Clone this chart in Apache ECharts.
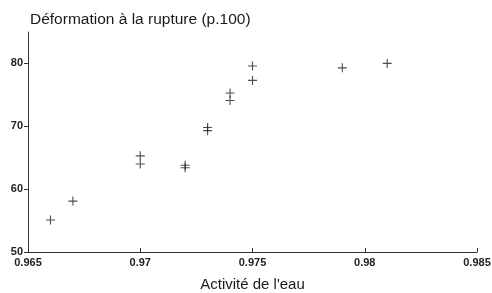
<!DOCTYPE html>
<html>
<head>
<meta charset="utf-8">
<script src="https://cdn.jsdelivr.net/npm/echarts@6/dist/echarts.min.js"></script>
<style>
  html, body { margin: 0; padding: 0; background: #fff; }
</style>
</head>
<body>
<div id="main" style="width:492px;height:293px;"></div>
<script>
    // données
    var activiteEau = [0.966, 0.967, 0.970, 0.970, 0.972, 0.972, 0.973, 0.973, 0.974, 0.974, 0.975, 0.975, 0.979, 0.981];
    var deformation = [55.1, 58.1, 65.3, 64.0, 63.8, 63.4, 69.8, 69.3, 75.3, 74.1, 79.6, 77.3, 79.3, 80.0];
    var xTicks = [0.965, 0.97, 0.975, 0.98, 0.985];
    var yTicks = [50, 60, 70, 80];

    var points = [];
    for (var i = 0; i < activiteEau.length; i++) {
        points.push([activiteEau[i], deformation[i]]);
    }

    var font = 'Liberation Sans, Arial, sans-serif';
    var myChart = echarts.init(document.getElementById('main'));

    var option = {
        animation: false,
        title: {
            text: 'Déformation à la rupture (p.100)',
            left: 30,
            top: 12,
            padding: 0,
            textStyle: { fontFamily: font, fontSize: 15.5, fontWeight: 'normal', color: '#1a1a1a' }
        },
        grid: { left: 28, right: 15, top: 32, bottom: 41, outerBoundsMode: 'none', containLabel: false },
        xAxis: {
            type: 'value',
            min: 0.965,
            max: 0.985,
            interval: 0.005,
            name: "Activité de l'eau",
            nameLocation: 'middle',
            nameGap: 25,
            nameTextStyle: { fontFamily: font, fontSize: 15, color: '#1a1a1a' },
            splitLine: { show: false },
            axisLine: { lineStyle: { color: '#333', width: 1 } },
            axisTick: { inside: true, length: 4, lineStyle: { color: '#333' } },
            axisLabel: {
                customValues: xTicks,
                margin: 5,
                fontFamily: font, fontSize: 11, fontWeight: 'bold', color: '#222',
                formatter: function (v) { return String(+v.toFixed(3)); }
            }
        },
        yAxis: {
            type: 'value',
            min: 50,
            max: 85,
            splitLine: { show: false },
            axisLine: { show: true, lineStyle: { color: '#333', width: 1 } },
            axisTick: { show: true, customValues: yTicks, length: 4, lineStyle: { color: '#333' } },
            axisLabel: {
                customValues: yTicks,
                margin: 5,
                fontFamily: font, fontSize: 11, fontWeight: 'bold', color: '#222'
            }
        },
        series: [{
            type: 'scatter',
            data: points,
            symbol: 'path://M0,3.5h8v1h-8zM3.5,0h1v8h-1z',
            symbolSize: [9, 9],
            itemStyle: { color: '#222' }
        }]
    };
    myChart.setOption(option);
</script>
</body>
</html>
